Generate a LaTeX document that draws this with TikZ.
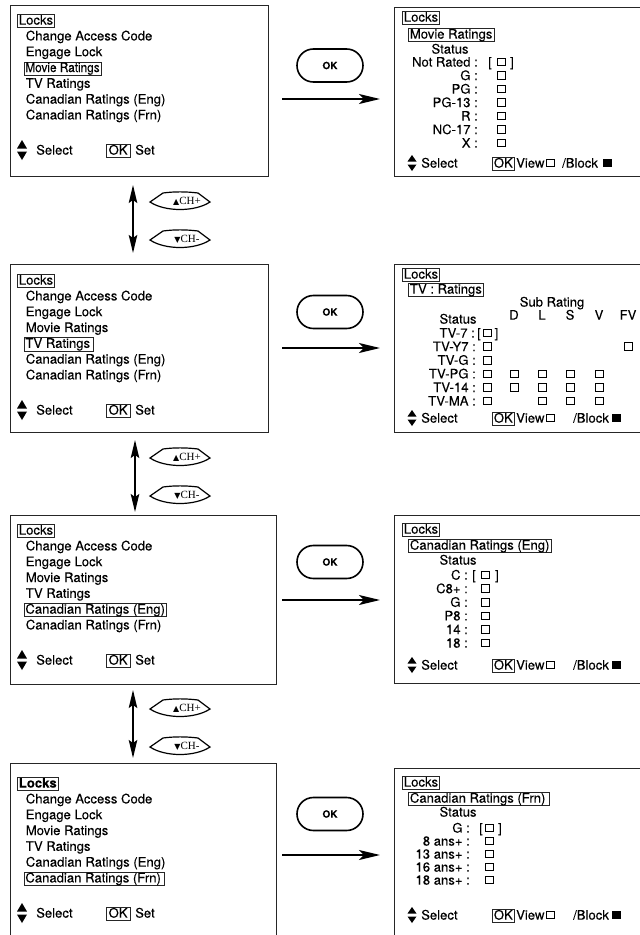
\documentclass[tikz,border=0pt]{standalone}
\usepackage{fontspec}
\setmainfont{TeX Gyre Heros}[FakeBold=0.1]
\newfontfamily\symfont{DejaVu Sans}
\newfontfamily\chfont{Liberation Serif}
\usetikzlibrary{arrows.meta}
\newcommand\mfont{\fontsize{13.1}{14}\selectfont}
\tikzset{
  screen/.style={draw=black!85, line width=1pt, inner sep=0pt, anchor=north west},
  mi/.style={anchor=base west, inner sep=0pt, font=\mfont},
  lab/.style={anchor=base east, inner sep=0pt, font=\mfont},
  ctr/.style={anchor=base, inner sep=0pt, font=\mfont},
  hl/.style={draw=black!85, line width=0.75pt, anchor=base west, inner xsep=1.5pt, inner ysep=0.6pt, text height=9.5pt, text depth=2.6pt, font=\mfont},
  cb/.style={draw=black, line width=0.85pt, minimum width=8pt, minimum height=7.5pt, inner sep=0pt},
  cbf/.style={cb, fill=black},
  okpill/.style={draw=black, line width=1.6pt, rounded corners=16.4pt, minimum width=66pt, minimum height=33pt, inner sep=0pt, font=\bfseries\fontsize{10}{12}\selectfont},
  harrow/.style={line width=1.6pt, -{Stealth[length=21pt,width=10pt,inset=5pt]}},
  varrow/.style={line width=1.6pt, {Stealth[length=18pt,width=8.5pt,inset=3pt]}-{Stealth[length=18pt,width=8.5pt,inset=3pt]}},
  chb/.style={draw=black, line width=1.2pt},
  chtxt/.style={inner sep=0pt, font=\chfont\fontsize{11}{12}\selectfont},
}
\newcommand\selicon[4]{% x, y, half-width, height
  \fill ({#1-#3},{#2-1.5}) -- ({#1+#3},{#2-1.5}) -- (#1,{#2-1.5-#4}) -- cycle;
  \fill ({#1-#3},{#2+1.5}) -- ({#1+#3},{#2+1.5}) -- (#1,{#2+1.5+#4}) -- cycle;
}
\newcommand\lbottom[2]{% prefix, centre y
  \selicon{22}{#2}{5}{8.5}
  \node[mi] (#1sel) at (36,{#2+4.6}) {Select};
  \node[hl, inner xsep=2.3pt] (#1ok) at (106,{#2+4.6}) {OK};
  \node[mi] (#1set) at (135,{#2+4.6}) {Set};
}
\newcommand\rbottom[4]{% prefix, centre y, /Block x, block square x
  \selicon{412}{#2}{4.5}{6.5}
  \node[mi] (#1sel) at (421,{#2+4.6}) {Select};
  \node[hl] (#1ok) at (492,{#2+4.6}) {OK};
  \node[mi] (#1view) at (516,{#2+4.6}) {View};
  \node[cb] (#1vb) at (550,#2) {};
  \node[mi] (#1blk) at (#3,{#2+4.6}) {/Block};
  \node[cbf] (#1bb) at (#4,#2) {};
}
\newcommand\chbtn[4]{% name, x, y, label
  \begin{scope}[shift={(#2,#3)}]
    \draw[chb] (-30,1) -- (-17,-8) .. controls (-6,-9.5) and (6,-9.5) .. (18,-8) -- (30,1) .. controls (15,11) and (-15,11) .. (-30,1) -- cycle;
    \node[chtxt] (#1) at (7,0) {#4};
  \end{scope}
}
\begin{document}
\begin{tikzpicture}[x=1pt,y=-1pt]
\path[use as bounding box] (0,0) rectangle (640,935);
\clip (0,0) rectangle (640,935);

% ---------------- screens ----------------
\node[screen, minimum width=258pt, minimum height=171pt] (s1) at (10,5) {};
\node[screen, minimum width=258pt, minimum height=168pt] (s2) at (10,264) {};
\node[screen, minimum width=266pt, minimum height=169pt] (s3) at (10,515) {};
\node[screen, minimum width=266pt, minimum height=182pt] (s4) at (10,763) {};
\node[screen, minimum width=256pt, minimum height=169pt] (t1) at (394,7) {};
\node[screen, minimum width=256pt, minimum height=168pt] (t2) at (394,264) {};
\node[screen, minimum width=256pt, minimum height=168pt] (t3) at (394,515) {};
\node[screen, minimum width=256pt, minimum height=177pt] (t4) at (394,768) {};

% ---------------- left menu 1 ----------------
\node[hl] (s1lk) at (17,24.6) {Locks};
\node[mi] (s1m1) at (25.6,40.4) {Change Access Code};
\node[mi] (s1m2) at (25.6,56.2) {Engage Lock};
\node[hl] (s1m3) at (23.5,72) {\scalebox{0.9}[1]{Movie Ratings}};
\node[mi] (s1m4) at (25.6,87.8) {TV Ratings};
\node[mi] (s1m5) at (25.6,103.6) {Canadian Ratings (Eng)};
\node[mi] (s1m6) at (25.6,119.4) {Canadian Ratings (Frn)};
\lbottom{s1}{150}

% ---------------- left menu 2 ----------------
\node[hl] (s2lk) at (17,284.6) {Locks};
\node[mi] (s2m1) at (25.6,300.4) {Change Access Code};
\node[mi] (s2m2) at (25.6,316.2) {Engage Lock};
\node[mi] (s2m3) at (25.6,332) {Movie Ratings};
\node[hl] (s2m4) at (23.5,347.8) {TV Ratings\kern2pt};
\node[mi] (s2m5) at (25.6,363.6) {Canadian Ratings (Eng)};
\node[mi] (s2m6) at (25.6,379.4) {Canadian Ratings (Frn)};
\lbottom{s2}{410}

% ---------------- left menu 3 ----------------
\node[hl] (s3lk) at (17,534.6) {Locks};
\node[mi] (s3m1) at (25.6,550.4) {Change Access Code};
\node[mi] (s3m2) at (25.6,566.2) {Engage Lock};
\node[mi] (s3m3) at (25.6,582) {Movie Ratings};
\node[mi] (s3m4) at (25.6,597.8) {TV Ratings};
\node[hl] (s3m5) at (23.5,613.6) {Canadian Ratings (Eng)};
\node[mi] (s3m6) at (25.6,629.4) {Canadian Ratings (Frn)};
\lbottom{s3}{660}

% ---------------- left menu 4 ----------------
\node[hl] (s4lk) at (17,787.6) {\bfseries Locks};
\node[mi] (s4m1) at (25.6,803.4) {Change Access Code};
\node[mi] (s4m2) at (25.6,819.2) {Engage Lock};
\node[mi] (s4m3) at (25.6,835) {Movie Ratings};
\node[mi] (s4m4) at (25.6,850.8) {TV Ratings};
\node[mi] (s4m5) at (25.6,866.6) {Canadian Ratings (Eng)};
\node[hl] (s4m6) at (23.5,882.4) {Canadian Ratings (Frn)\kern2pt};
\lbottom{s4}{913}

% ---------------- right 1: Movie Ratings ----------------
\node[hl] (t1lk) at (402,21.6) {Locks};
\node[hl] (t1tt) at (408,38.6) {Movie Ratings};
\node[ctr] (t1st) at (450,53.6) {Status};
\node[lab] (t1l0) at (478,66.6) {Not Rated :};
\node[ctr] (t1lb) at (490,66.6) {[};
\node[cb] (t1c0) at (501,62) {};
\node[ctr] (t1rb) at (512,66.6) {]};
\node[lab] (t1l1) at (478,80.1) {G :};      \node[cb] (t1c1) at (501,75.5) {};
\node[lab] (t1l2) at (478,93.6) {PG :};   \node[cb] (t1c2) at (501,89) {};
\node[lab] (t1l3) at (478,107.1) {PG-13 :}; \node[cb] (t1c3) at (501,102.5) {};
\node[lab] (t1l4) at (478,120.6) {R :};   \node[cb] (t1c4) at (501,116) {};
\node[lab] (t1l5) at (478,134.1) {NC-17 :}; \node[cb] (t1c5) at (501,129.5) {};
\node[lab] (t1l6) at (478,147.6) {X :};   \node[cb] (t1c6) at (501,143) {};
\rbottom{t1}{163}{562}{607}

% ---------------- right 2: TV Ratings ----------------
\node[hl] (t2lk) at (402,278.6) {Locks};
\node[hl] (t2tt) at (408,293.6) {TV : Ratings};
\node[ctr] (t2sub) at (552,306.6) {Sub Rating};
\node[ctr] (t2st) at (458,323.6) {Status};
\node[ctr] (t2hD) at (514,319.6) {D};
\node[ctr] (t2hL) at (542,319.6) {L};
\node[ctr] (t2hS) at (570,319.6) {S};
\node[ctr] (t2hV) at (599,319.6) {V};
\node[ctr] (t2hF) at (628,319.6) {FV};
\node[lab] (t2l0) at (475,337.6) {TV-7 :};
\node[ctr] (t2lb) at (479,337.6) {[};
\node[cb] (t2c0) at (487,333) {};
\node[ctr] (t2rb) at (496.5,337.6) {]};
\node[lab] (t2l1) at (476,351.2) {TV-Y7 :}; \node[cb] (t2c1) at (487,346.6) {};
\node[cb] (t2f1) at (628,346.6) {};
\node[lab] (t2l2) at (476,364.8) {TV-G :};  \node[cb] (t2c2) at (487,360.2) {};
\node[lab] (t2l3) at (476,378.4) {TV-PG :}; \node[cb] (t2c3) at (487,373.8) {};
\node[cb] (t2d3) at (514,373.8) {}; \node[cb] (t2e3) at (542,373.8) {};
\node[cb] (t2s3) at (570,373.8) {}; \node[cb] (t2v3) at (599,373.8) {};
\node[lab] (t2l4) at (476,392) {TV-14 :}; \node[cb] (t2c4) at (487,387.4) {};
\node[cb] (t2d4) at (514,387.4) {}; \node[cb] (t2e4) at (542,387.4) {};
\node[cb] (t2s4) at (570,387.4) {}; \node[cb] (t2v4) at (599,387.4) {};
\node[lab] (t2l5) at (476,405.6) {TV-MA :}; \node[cb] (t2c5) at (487,401) {};
\node[cb] (t2e5) at (542,401) {};
\node[cb] (t2s5) at (570,401) {}; \node[cb] (t2v5) at (599,401) {};
\rbottom{t2}{418}{573}{616}

% ---------------- right 3: Canadian Eng ----------------
\node[hl] (t3lk) at (402,533.6) {Locks};
\node[hl] (t3tt) at (408,549.6) {Canadian Ratings (Eng)};
\node[ctr] (t3st) at (458,564.6) {Status};
\node[lab] (t3l0) at (468,579.6) {C :};
\node[ctr] (t3lb) at (474,579.6) {[};
\node[cb] (t3c0) at (485,575) {};
\node[ctr] (t3rb) at (497,579.6) {]};
\node[lab] (t3l1) at (468,593.2) {C8+ :}; \node[cb] (t3c1) at (485,588.6) {};
\node[lab] (t3l2) at (468,606.8) {G :};   \node[cb] (t3c2) at (485,602.2) {};
\node[lab] (t3l3) at (468,620.4) {P8 :};  \node[cb] (t3c3) at (485,615.8) {};
\node[lab] (t3l4) at (468,634) {14 :};  \node[cb] (t3c4) at (485,629.4) {};
\node[lab] (t3l5) at (468,647.6) {18 :};  \node[cb] (t3c5) at (485,643) {};
\rbottom{t3}{665}{573}{616}

% ---------------- right 4: Canadian Frn ----------------
\node[hl] (t4lk) at (402,786.6) {Locks};
\node[hl] (t4tt) at (408,802.6) {Canadian Ratings (Frn)\kern3pt};
\node[ctr] (t4st) at (458,816.6) {Status};
\node[lab] (t4l0) at (470,832.6) {G :};
\node[ctr] (t4lb) at (481,832.6) {[};
\node[cb] (t4c0) at (489,828) {};
\node[ctr] (t4rb) at (500,832.6) {]};
\node[lab] (t4l1) at (470,845.6) {8 ans+ :};  \node[cb] (t4c1) at (489,841) {};
\node[lab] (t4l2) at (470,858.6) {13 ans+ :}; \node[cb] (t4c2) at (489,854) {};
\node[lab] (t4l3) at (470,871.6) {16 ans+ :}; \node[cb] (t4c3) at (489,867) {};
\node[lab] (t4l4) at (470,884.6) {18 ans+ :}; \node[cb] (t4c4) at (489,880) {};
\rbottom{t4}{915}{573}{616}

% ---------------- OK buttons and arrows ----------------
\node[okpill] (ok1) at (330,65.5) {OK};
\node[okpill] (ok2) at (330,312) {OK};
\node[okpill] (ok3) at (330,562) {OK};
\node[okpill] (ok4) at (330,814) {OK};
\coordinate (a1s) at (282,99);  \coordinate (a1e) at (380,99);
\coordinate (a2s) at (282,348); \coordinate (a2e) at (380,348);
\coordinate (a3s) at (282,600); \coordinate (a3e) at (380,600);
\coordinate (a4s) at (282,855); \coordinate (a4e) at (380,855);
\draw[harrow] (a1s) -- (a1e);
\draw[harrow] (a2s) -- (a2e);
\draw[harrow] (a3s) -- (a3e);
\draw[harrow] (a4s) -- (a4e);

% ---------------- channel up/down ----------------
\coordinate (v1s) at (133,185); \coordinate (v1e) at (133,253);
\coordinate (v2s) at (135,440); \coordinate (v2e) at (135,512);
\coordinate (v3s) at (133,690); \coordinate (v3e) at (133,758);
\draw[varrow] (v1s) -- (v1e);
\draw[varrow] (v2s) -- (v2e);
\draw[varrow] (v3s) -- (v3e);
\chbtn{ch1u}{180}{201}{{\symfont\fontsize{8}{9}\selectfont ▲}CH+}
\chbtn{ch1d}{180}{239}{{\symfont\fontsize{8}{9}\selectfont ▼}CH-}
\chbtn{ch2u}{180}{457}{{\symfont\fontsize{8}{9}\selectfont ▲}CH+}
\chbtn{ch2d}{180}{495}{{\symfont\fontsize{8}{9}\selectfont ▼}CH-}
\chbtn{ch3u}{180}{708}{{\symfont\fontsize{8}{9}\selectfont ▲}CH+}
\chbtn{ch3d}{180}{746}{{\symfont\fontsize{8}{9}\selectfont ▼}CH-}
\end{tikzpicture}
\end{document}
